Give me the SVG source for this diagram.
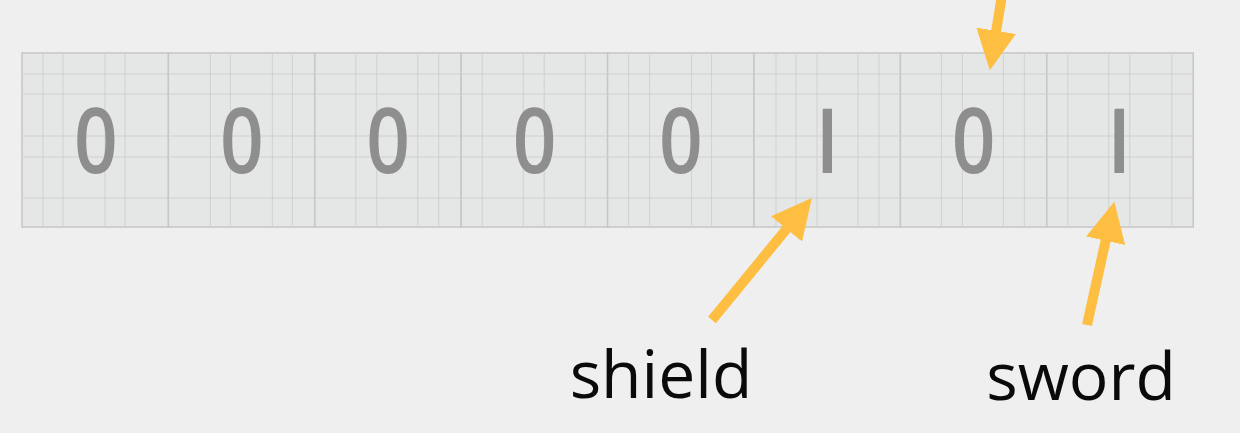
<svg xmlns="http://www.w3.org/2000/svg" width="1240" height="433" viewBox="0 0 1240 433">
<style>
.cell{fill:#e5e6e6;stroke:#c6c6c6;stroke-width:1.5}
.g{stroke:#cfd0d0;stroke-width:1}
.bit{font-family:"Open Sans","Noto Sans",sans-serif;font-size:90px;font-weight:600;fill:#8e8e8e;text-anchor:middle}
.one{font-weight:700;text-anchor:start}
.lbl{font-family:"Open Sans","Noto Sans",sans-serif;font-size:66px;fill:#0a0a0a;text-anchor:middle}
.arr{stroke:#fdbe42;stroke-width:10;fill:none}
</style>
<defs>
<marker id="head" markerUnits="userSpaceOnUse" markerWidth="40" markerHeight="40" viewBox="0 0 38 38" refX="13" refY="19" orient="auto">
<path d="M0,0 L38,19 L0,38 Z" fill="#fdbe42"/>
</marker>
<clipPath id="stem6"><rect x="68.7" y="0" width="9.3" height="433"/></clipPath>
<clipPath id="stem8"><rect x="67.6" y="0" width="9.6" height="433"/></clipPath>
<g id="hgrid">
<line class="g" x1="0" y1="74" x2="146.4" y2="74"/>
<line class="g" x1="0" y1="94" x2="146.4" y2="94"/>
<line class="g" x1="0" y1="136" x2="146.4" y2="136"/>
<line class="g" x1="0" y1="157" x2="146.4" y2="157"/>
<line class="g" x1="0" y1="198" x2="146.4" y2="198"/>
</g>
</defs>
<rect width="1240" height="433" fill="#efefef"/>

<g id="cell-1" transform="translate(22,0)">
<rect class="cell" x="0" y="53" width="146.4" height="174"/>
<use href="#hgrid"/>
<path class="g" d="M21,53V227M41,53V227M83,53V227M103,53V227"/>
<text class="bit" transform="translate(73.8,173) scale(0.85,1)">0</text>
</g>
<g id="cell-2" transform="translate(168.4,0)">
<rect class="cell" x="0" y="53" width="146.4" height="174"/>
<use href="#hgrid"/>
<path class="g" d="M42,53V227M62,53V227M104,53V227M124,53V227"/>
<text class="bit" transform="translate(73.5,173) scale(0.85,1)">0</text>
</g>
<g id="cell-3" transform="translate(314.8,0)">
<rect class="cell" x="0" y="53" width="146.4" height="174"/>
<use href="#hgrid"/>
<path class="g" d="M41,53V227M62,53V227M103,53V227M124,53V227"/>
<text class="bit" transform="translate(73.3,173) scale(0.85,1)">0</text>
</g>
<g id="cell-4" transform="translate(461.2,0)">
<rect class="cell" x="0" y="53" width="146.4" height="174"/>
<use href="#hgrid"/>
<path class="g" d="M21,53V227M62,53V227M83,53V227M124,53V227"/>
<text class="bit" transform="translate(73.3,173) scale(0.85,1)">0</text>
</g>
<g id="cell-5" transform="translate(607.6,0)">
<rect class="cell" x="0" y="53" width="146.4" height="174"/>
<use href="#hgrid"/>
<path class="g" d="M21,53V227M42,53V227M84,53V227M104,53V227"/>
<text class="bit" transform="translate(73.3,173) scale(0.85,1)">0</text>
</g>
<g id="cell-6" transform="translate(754,0)">
<rect class="cell" x="0" y="53" width="146.4" height="174"/>
<use href="#hgrid"/>
<path class="g" d="M22,53V227M42,53V227M63,53V227M104,53V227M125,53V227"/>
<text class="bit one" x="43.6" y="173" clip-path="url(#stem6)">1</text>
</g>
<g id="cell-7" transform="translate(900.4,0)">
<rect class="cell" x="0" y="53" width="146.4" height="174"/>
<use href="#hgrid"/>
<path class="g" d="M41,53V227M62,53V227M103,53V227M124,53V227"/>
<text class="bit" transform="translate(73.3,173) scale(0.85,1)">0</text>
</g>
<g id="cell-8" transform="translate(1046.8,0)">
<rect class="cell" x="0" y="53" width="146.4" height="174"/>
<use href="#hgrid"/>
<path class="g" d="M21,53V227M62,53V227M83,53V227M125,53V227"/>
<text class="bit one" x="42.7" y="173" clip-path="url(#stem8)">1</text>
</g>

<g id="connectors">
<line class="arr" x1="1002" y1="-5" x2="994" y2="44.3" marker-end="url(#head)"/>
<line class="arr" x1="712" y1="320" x2="795.2" y2="218.4" marker-end="url(#head)"/>
<line class="arr" x1="1087" y1="325" x2="1108.6" y2="227.4" marker-end="url(#head)"/>
</g>

<g id="label-shield"><text class="lbl" x="661" y="398">shield</text></g>
<g id="label-sword"><text class="lbl" x="1081" y="400">sword</text></g>
</svg>
